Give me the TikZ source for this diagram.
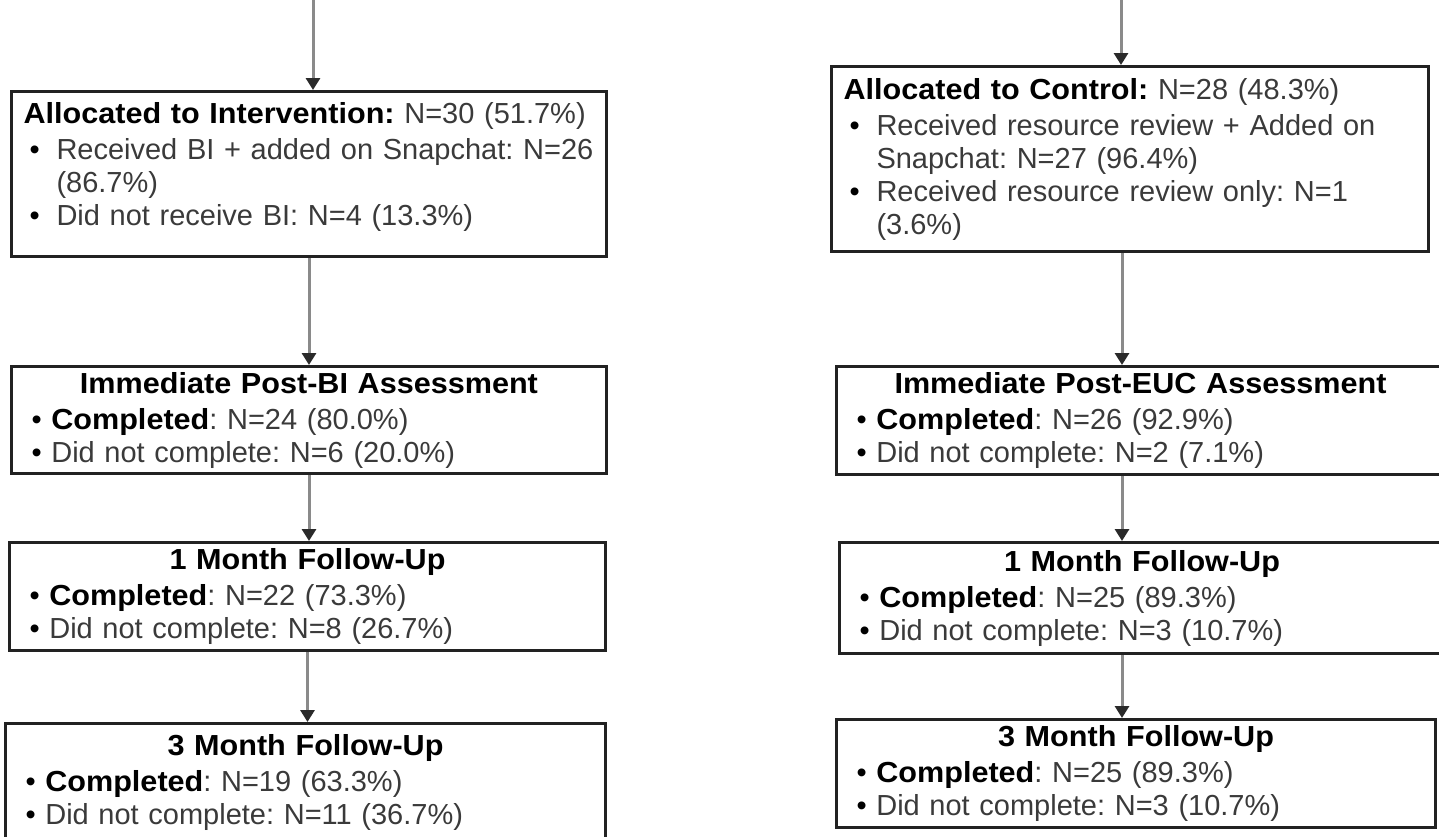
\documentclass[tikz,border=0pt]{standalone}
\usepackage{fontspec}
\setmainfont{Liberation Sans}[BoldFeatures={FakeStretch=1.055}]
\usetikzlibrary{arrows.meta,positioning}
\setlength{\parindent}{0pt}

\definecolor{boxline}{HTML}{222222}
\definecolor{flowgray}{HTML}{8A8A8A}
\definecolor{tipgray}{HTML}{2A2A2A}
\definecolor{bodytext}{HTML}{3A3A3A}

\newcommand{\boxfont}{\fontsize{29}{33}\selectfont\frenchspacing}
\newcommand{\hd}[1]{\textbf{\color{black}#1}}
\newcommand{\ctr}[1]{\hspace*{\fill}\hd{#1}\hspace*{\fill}\null}
% bullets of the allocation boxes, and their wrapped lines
\newcommand{\bl}{\hspace*{6pt}\makebox[27pt][l]{\color{black}\textbullet}}
\newcommand{\cont}{\hspace*{33pt}}
% bullets of the assessment boxes
\newcommand{\sbl}{\hspace*{8pt}{\color{black}\textbullet}\ }

\tikzset
{
    stage/.style = {draw=boxline, line width=3pt, anchor=north west, align=left, font=\boxfont, text=bodytext, inner xsep=12pt, inner ysep=0pt, text width=#1},
    flow/.style  = {draw=flowgray, line width=3pt, -{Triangle[width=14pt,length=12pt,color=tipgray]}}
}

\begin{document}
\begin{tikzpicture}[x=1pt,y=1pt]
    \useasboundingbox (0,0) rectangle (1439,-836);
    \clip (0,0) rectangle (1439,-836);

    \coordinate (inL) at (313,2);
    \coordinate (inR) at (1121,2);
    \coordinate (colR) at (1122,0);

    % intervention arm
    \node [stage=571pt, minimum height=165pt] (intv) at (10,-90)
    {
        \hd{Allocated to Intervention:} N=30 (51.7\%)\\[3pt]
        \bl Received BI + added on Snapchat: N=26\\
        \cont (86.7\%)\\
        \bl Did not receive BI: N=4 (13.3\%)\\[-12pt]
        \mbox{}
    };
    \node [stage=571pt, minimum height=107pt] (postbi) at (10,-365)
    {
        \ctr{Immediate Post-BI Assessment}\\[3pt]
        \sbl\hd{Completed}: N=24 (80.0\%)\\
        \sbl Did not complete: N=6 (20.0\%)
    };
    \node [stage=572pt, minimum height=108pt] (monL) at (8,-541)
    {
        \ctr{1 Month Follow-Up}\\[3pt]
        \sbl\hd{Completed}: N=22 (73.3\%)\\
        \sbl Did not complete: N=8 (26.7\%)
    };
    \node [stage=576pt, minimum height=118pt] (trimL) at (4,-722)
    {
        \ctr{3 Month Follow-Up}\\[3pt]
        \sbl\hd{Completed}: N=19 (63.3\%)\\
        \sbl Did not complete: N=11 (36.7\%)
    };

    % control arm
    \node [stage=573pt, minimum height=185pt] (ctrl) at (830,-65)
    {
        \hd{Allocated to Control:} N=28 (48.3\%)\\[3pt]
        \bl Received resource review + Added on\\
        \cont Snapchat: N=27 (96.4\%)\\
        \bl Received resource review only: N=1\\
        \cont (3.6\%)
    };
    \node [stage=584pt, minimum height=108pt] (posteuc) at (835,-365)
    {
        \ctr{Immediate Post-EUC Assessment}\\[3pt]
        \sbl\hd{Completed}: N=26 (92.9\%)\\
        \sbl Did not complete: N=2 (7.1\%)
    };
    \node [stage=581pt, minimum height=111pt] (monR) at (838,-541)
    {
        \ctr{1 Month Follow-Up}\\[3pt]
        \sbl\hd{Completed}: N=25 (89.3\%)\\
        \sbl Did not complete: N=3 (10.7\%)
    };
    \node [stage=575pt, minimum height=108pt] (trimR) at (835,-718)
    {
        \ctr{3 Month Follow-Up}\\[3pt]
        \sbl\hd{Completed}: N=25 (89.3\%)\\
        \sbl Did not complete: N=3 (10.7\%)
    };

    \draw [flow] (inL) -- (inL |- intv.north);
    \draw [flow] (intv.south) -- (intv.south |- postbi.north);
    \draw [flow] (postbi.south) -- (postbi.south |- monL.north);
    \draw [flow] (monL.south) -- (monL.south |- trimL.north);

    \draw [flow] (inR) -- (inR |- ctrl.north);
    \draw [flow] (ctrl.south -| colR) -- (posteuc.north -| colR);
    \draw [flow] (posteuc.south -| colR) -- (monR.north -| colR);
    \draw [flow] (monR.south -| colR) -- (trimR.north -| colR);
\end{tikzpicture}
\end{document}
